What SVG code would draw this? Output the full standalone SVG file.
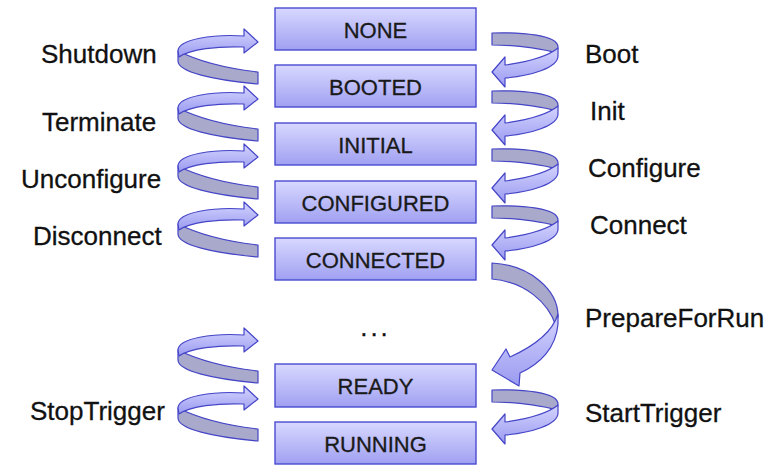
<svg xmlns="http://www.w3.org/2000/svg" xmlns:xlink="http://www.w3.org/1999/xlink" width="782" height="465" viewBox="0 0 782 465">
<style>
.box{fill:url(#boxGrad);stroke:#4b4bd0;stroke-width:1.4}
.bt{font-family:"Liberation Sans",Arial,sans-serif;font-size:22px;fill:#1a1a1a;stroke:#1a1a1a;stroke-width:0.3;text-anchor:middle}
.lbl{font-family:"Liberation Sans",Arial,sans-serif;font-size:26px;fill:#111;stroke:#111;stroke-width:0.3}
.front{fill:url(#frontGrad);stroke:#4545c8;stroke-width:1.2;stroke-linejoin:round}
.back{fill:#a9a9cc;stroke:#4545c8;stroke-width:1.2;stroke-linejoin:round}
</style>
<defs>
<linearGradient id="boxGrad" x1="0" y1="0" x2="0" y2="1">
<stop offset="0" stop-color="#d8d8ff"/>
<stop offset="1" stop-color="#a0a0f2"/>
</linearGradient>
<linearGradient id="frontGrad" x1="0" y1="0" x2="0" y2="1">
<stop offset="0" stop-color="#d4d4ff"/>
<stop offset="1" stop-color="#9a9af0"/>
</linearGradient>
<g id="leftArrow">
<path class="back" d="M -80,9 L -80,19 C -80,30 -45,38 0,42 L 0,30 C -35,26 -62,18 -80,9 Z"/>
<path class="front" d="M 0,0 L -14,-13 L -14,-6 C -44,-8 -80,-3 -80,9 L -79,15 C -68,7 -40,4 -14,5 L -14,11 Z"/>
</g>
<g id="rightArrow">
<path class="back" d="M 0,-39 C 30,-40 66,-37 66,-25 L 65,-19 C 55,-22 30,-27 0,-27 Z"/>
<path class="front" d="M 0,0 L 13,-15 L 13,-7 C 35,-10 55,-15 66,-24 L 66,-16 C 66,-4 38,4 13,6 L 13,15 Z"/>
</g>
</defs>
<rect width="782" height="465" fill="#ffffff"/>

<g id="connectors">
<use xlink:href="#leftArrow" x="258" y="42"/>
<use xlink:href="#leftArrow" x="258" y="99"/>
<use xlink:href="#leftArrow" x="258" y="157"/>
<use xlink:href="#leftArrow" x="258" y="215"/>
<use xlink:href="#leftArrow" x="258" y="341"/>
<use xlink:href="#leftArrow" x="258" y="399"/>
<use xlink:href="#rightArrow" x="492" y="72"/>
<use xlink:href="#rightArrow" x="492" y="130"/>
<use xlink:href="#rightArrow" x="492" y="188"/>
<use xlink:href="#rightArrow" x="492" y="245"/>
<use xlink:href="#rightArrow" x="492" y="429"/>
<g id="prepareForRunArrow">
<path class="back" d="M 492,263 C 530,265 558,290 558,316 L 556,326 C 548,302 525,282 492,279 Z"/>
<path class="front" d="M 492,370 L 506,349 L 510,357 C 532,347 552,334 558,314 L 558,324 C 556,348 540,364 520,373 L 519,386 Z"/>
</g>
<text class="lbl" x="41" y="63">Shutdown</text>
<text class="lbl" x="42" y="131">Terminate</text>
<text class="lbl" x="21" y="188">Unconfigure</text>
<text class="lbl" x="33" y="245">Disconnect</text>
<text class="lbl" x="30" y="420">StopTrigger</text>
<text class="lbl" x="585" y="63">Boot</text>
<text class="lbl" x="590" y="120">Init</text>
<text class="lbl" x="588" y="177">Configure</text>
<text class="lbl" x="590" y="234">Connect</text>
<text class="lbl" x="585" y="327">PrepareForRun</text>
<text class="lbl" x="585" y="422">StartTrigger</text>
</g>

<g id="NONE"><rect class="box" x="275" y="8" width="201" height="42"/><text class="bt" x="375.5" y="38">NONE</text></g>
<g id="BOOTED"><rect class="box" x="275" y="65" width="201" height="42"/><text class="bt" x="375.5" y="95">BOOTED</text></g>
<g id="INITIAL"><rect class="box" x="275" y="123" width="201" height="42"/><text class="bt" x="375.5" y="153">INITIAL</text></g>
<g id="CONFIGURED"><rect class="box" x="275" y="181" width="201" height="42"/><text class="bt" x="375.5" y="211">CONFIGURED</text></g>
<g id="CONNECTED"><rect class="box" x="275" y="238" width="201" height="42"/><text class="bt" x="375.5" y="268">CONNECTED</text></g>
<g id="ellipsis"><text class="lbl" x="375.5" y="336" text-anchor="middle" letter-spacing="3">...</text></g>
<g id="READY"><rect class="box" x="275" y="364" width="201" height="43"/><text class="bt" x="375.5" y="394">READY</text></g>
<g id="RUNNING"><rect class="box" x="275" y="422" width="201" height="42"/><text class="bt" x="375.5" y="452">RUNNING</text></g>
</svg>
